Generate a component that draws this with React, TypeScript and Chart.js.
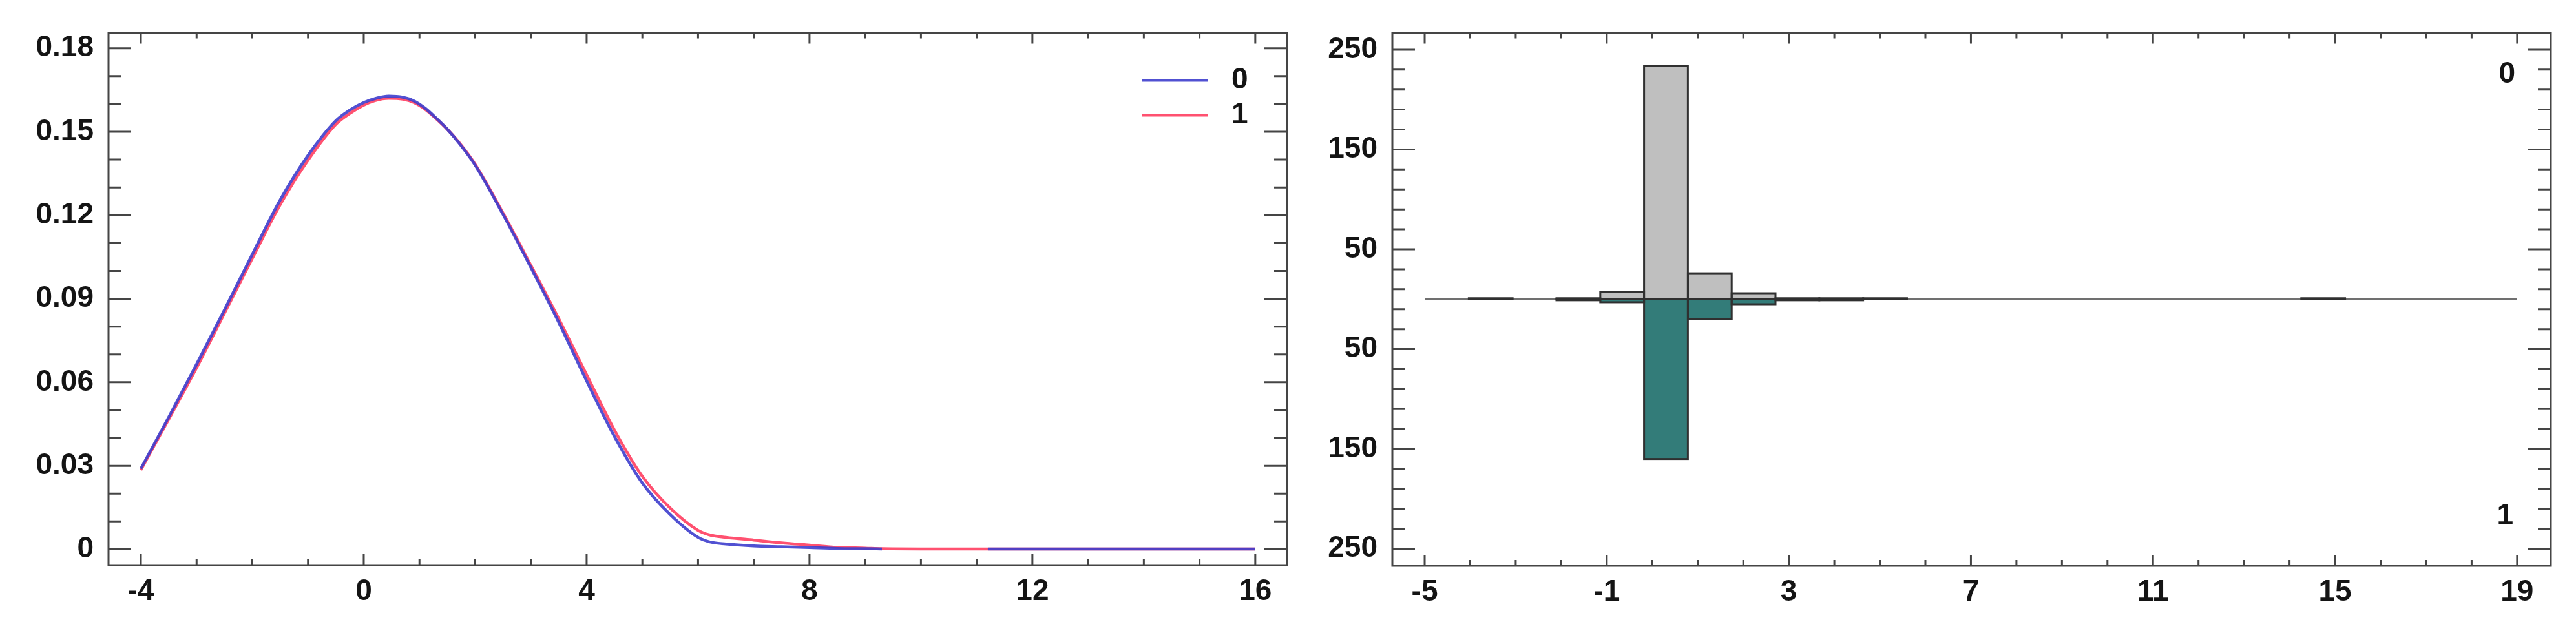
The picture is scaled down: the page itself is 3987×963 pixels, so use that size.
import React, { useEffect, useRef } from "react";
import { Chart, registerables } from "chart.js";

Chart.register(...registerables);

// ---------------- data: left panel (density curves) ----------------
const seriesNames = ["0", "1"];
const densityX = [
  -4, -3.5, -3, -2.5, -2, -1.5, -1, -0.5, -0.25, 0, 0.2, 0.45, 0.7, 0.9, 1.1, 1.3, 1.5, 1.7, 2, 2.5, 3,
  3.5, 4, 4.5, 5, 5.5, 6, 6.2, 6.5, 7, 7.5, 8, 8.5, 9, 9.3, 10.3, 11.2, 12, 13, 14, 15, 16,
];
const density0 = [
  0.029, 0.0475, 0.0665, 0.086, 0.106, 0.1255, 0.1415, 0.154, 0.1578, 0.1605, 0.1619, 0.1628, 0.1624,
  0.1611, 0.1585, 0.1549, 0.1509, 0.1462, 0.138, 0.1203, 0.1012, 0.0815, 0.0605, 0.0405, 0.0238, 0.0125,
  0.0043, 0.0027, 0.0019, 0.0012, 0.0009, 0.0006, 0.0003, 0.0002, 0.0001, null, 0.0001, 0.0001, 0.0001,
  0.0001, 0.0001, 0.0001,
];
const density1 = [
  0.0285, 0.0467, 0.0652, 0.0848, 0.1045, 0.1238, 0.1398, 0.1527, 0.1566, 0.1596, 0.1612, 0.162, 0.1617,
  0.1605, 0.1581, 0.1547, 0.1509, 0.1464, 0.1383, 0.1208, 0.102, 0.0828, 0.0627, 0.0428, 0.0262, 0.0148,
  0.0068, 0.0052, 0.0043, 0.0033, 0.0023, 0.0015, 0.0007, 0.0004, 0.0002, 0.0001, 0.0001, 0.0001, 0.0001,
  0.0001, 0.0001, 0.0001,
];
const densityXTicks = [-4, 0, 4, 8, 12, 16];
const densityXMinor = [-3, -2, -1, 1, 2, 3, 5, 6, 7, 9, 10, 11, 13, 14, 15];
const densityYTicks = [0, 0.03, 0.06, 0.09, 0.12, 0.15, 0.18];
const densityYMinor = [0.01, 0.02, 0.04, 0.05, 0.07, 0.08, 0.1, 0.11, 0.13, 0.14, 0.16, 0.17];
const densityXRange = [-4.58, 16.57];
const densityYRange = [-0.0057, 0.1856];

// ---------------- data: right panel (back-to-back histogram) ----------------
const binCenters = [
  -3.549, -2.586, -1.624, -0.661, 0.301, 1.264, 2.226, 3.189, 4.151, 5.114, 6.076, 7.039, 8.001, 8.964,
  9.926, 10.889, 11.851, 12.814, 13.776, 14.739,
];
const counts0 = [1, null, 1, 7, 234, 26, 6, 1, 1, 1, null, null, null, null, null, null, null, null, null, 1];
const counts1 = [null, null, 1, 3, 160, 20, 5, 1, 1, null, null, null, null, null, null, null, null, null, null, null];
const histXTicks = [-5, -1, 3, 7, 11, 15, 19];
const histXMinor = [-4, -3, -2, 0, 1, 2, 4, 5, 6, 8, 9, 10, 12, 13, 14, 16, 17, 18];
const histYTicks = [-250, -150, -50, 50, 150, 250];
const histYMinor = [
  -230, -210, -190, -170, -130, -110, -90, -70, -30, -10, 10, 30, 70, 90, 110, 130, 170, 190, 210, 230,
];
const histXRange = [-5.71, 19.74];
const histYRange = [-267, 267];
const zeroLineSpan = [-5, 19];

// ---------------- styles ----------------
const FONT_FAMILY = "'Liberation Sans', Arial, Helvetica, sans-serif";
const TEXT_COLOR = "#141414";
const FRAME_COLOR = "#454545";
const BLUE = "rgba(62,62,205,0.9)";
const RED = "rgba(255,62,96,0.9)";
const GREY_BAR = "#bfbfbf";
const TEAL_BAR = "#337c79";
const BAR_EDGE = "#303030";

const tickFont = { family: FONT_FAMILY, size: 46, weight: "bold" as const };

function makeFrame(xMajor: number[], xMinor: number[], yMajor: number[], yMinor: number[]) {
  return {
    id: "frame",
    afterDraw(chart: any) {
      const { ctx, chartArea: a } = chart;
      const xs = chart.scales.x;
      const ys = chart.scales.y;
      ctx.save();
      ctx.strokeStyle = FRAME_COLOR;
      ctx.lineWidth = 3;
      ctx.beginPath();
      const hx = (vals: number[], len: number) =>
        vals.forEach((v) => {
          const p = xs.getPixelForValue(v);
          ctx.moveTo(p, a.bottom);
          ctx.lineTo(p, a.bottom - len);
          ctx.moveTo(p, a.top);
          ctx.lineTo(p, a.top + len);
        });
      const vy = (vals: number[], len: number) =>
        vals.forEach((v) => {
          const p = ys.getPixelForValue(v);
          ctx.moveTo(a.left, p);
          ctx.lineTo(a.left + len, p);
          ctx.moveTo(a.right, p);
          ctx.lineTo(a.right - len, p);
        });
      hx(xMajor, 17);
      hx(xMinor, 9);
      vy(yMajor, 35);
      vy(yMinor, 20);
      ctx.stroke();
      ctx.strokeRect(a.left, a.top, a.right - a.left, a.bottom - a.top);
      ctx.restore();
    },
  };
}

// outlines each histogram bar with a centred stroke (as the original plotting tool does)
const barOutlinePlugin = {
  id: "barOutline",
  afterDatasetsDraw(chart: any) {
    const { ctx } = chart;
    ctx.save();
    ctx.strokeStyle = BAR_EDGE;
    ctx.lineWidth = 3;
    chart.data.datasets.forEach((ds: any, di: number) => {
      if (ds.type !== "bar") return;
      const meta = chart.getDatasetMeta(di);
      meta.data.forEach((el: any, i: number) => {
        const raw = ds.data[i];
        if (!raw || raw.y == null) return;
        const p = el.getProps(["x", "y", "base", "width"], true);
        const top = Math.min(p.y, p.base);
        const h = Math.abs(p.base - p.y);
        ctx.strokeRect(p.x - p.width / 2, top, p.width, h);
      });
    });
    ctx.restore();
  },
};

const legendPlugin = {
  id: "curveLegend",
  afterDraw(chart: any) {
    const { ctx, chartArea: a } = chart;
    const colors = [BLUE, RED];
    ctx.save();
    ctx.font = `bold 46px ${FONT_FAMILY}`;
    ctx.textBaseline = "middle";
    ctx.textAlign = "left";
    seriesNames.forEach((name, i) => {
      const y = a.top + 74 + i * 54;
      ctx.strokeStyle = colors[i];
      ctx.lineWidth = 4;
      ctx.beginPath();
      ctx.moveTo(a.right - 224, y);
      ctx.lineTo(a.right - 122, y);
      ctx.stroke();
      ctx.fillStyle = TEXT_COLOR;
      ctx.fillText(name, a.right - 86, y);
    });
    ctx.restore();
  },
};

const groupLabelPlugin = {
  id: "groupLabels",
  afterDraw(chart: any) {
    const { ctx, chartArea: a } = chart;
    ctx.save();
    ctx.font = `bold 46px ${FONT_FAMILY}`;
    ctx.textBaseline = "middle";
    ctx.textAlign = "right";
    ctx.fillStyle = TEXT_COLOR;
    ctx.fillText(seriesNames[0], a.right - 55, a.top + 65);
    ctx.fillText(seriesNames[1], a.right - 58, a.bottom - 77);
    ctx.restore();
  },
};

function setTicks(values: number[]) {
  return (scale: any) => {
    scale.ticks = values.map((v) => ({ value: v }));
  };
}

const noGrid = { display: false, drawTicks: false, tickLength: 0 };

function leftConfig(): any {
  const lineCommon = {
    borderWidth: 4.5,
    pointRadius: 0,
    cubicInterpolationMode: "monotone",
    spanGaps: false,
    fill: false,
  };
  return {
    type: "line",
    data: {
      datasets: [
        {
          ...lineCommon,
          label: seriesNames[0],
          data: densityX.map((x, i) => ({ x, y: density0[i] })),
          borderColor: BLUE,
        },
        {
          ...lineCommon,
          label: seriesNames[1],
          data: densityX.map((x, i) => ({ x, y: density1[i] })),
          borderColor: RED,
        },
      ],
    },
    options: {
      animation: false,
      responsive: false,
      devicePixelRatio: 1,
      layout: { padding: { top: 44, right: 48, left: 0, bottom: 0 } },
      plugins: { legend: { display: false }, tooltip: { enabled: false } },
      scales: {
        x: {
          type: "linear",
          min: densityXRange[0],
          max: densityXRange[1],
          afterBuildTicks: setTicks(densityXTicks),
          afterFit: (s: any) => {
            s.height = 88;
          },
          grid: noGrid,
          border: { display: false },
          ticks: { font: tickFont, color: TEXT_COLOR, padding: 14, maxRotation: 0, autoSkip: false },
        },
        y: {
          type: "linear",
          min: densityYRange[0],
          max: densityYRange[1],
          afterBuildTicks: setTicks(densityYTicks),
          afterFit: (s: any) => {
            s.width = 168;
          },
          grid: noGrid,
          border: { display: false },
          ticks: {
            font: tickFont,
            color: TEXT_COLOR,
            padding: 23,
            autoSkip: false,
            callback: (v: number) => String(v),
          },
        },
      },
    },
    plugins: [makeFrame(densityXTicks, densityXMinor, densityYTicks, densityYMinor), legendPlugin],
  };
}

function rightConfig(): any {
  const barCommon = {
    type: "bar",
    grouped: false,
    barPercentage: 1,
    categoryPercentage: 1,
    borderWidth: 0,
    inflateAmount: 0,
    order: 1,
  };
  return {
    type: "bar",
    data: {
      datasets: [
        {
          ...barCommon,
          label: seriesNames[0],
          data: binCenters.map((x, i) => ({ x, y: counts0[i] })),
          backgroundColor: GREY_BAR,
        },
        {
          ...barCommon,
          label: seriesNames[1],
          data: binCenters.map((x, i) => ({ x, y: counts1[i] == null ? null : -(counts1[i] as number) })),
          backgroundColor: TEAL_BAR,
        },
        {
          type: "line",
          label: "zero",
          data: zeroLineSpan.map((x) => ({ x, y: 0 })),
          borderColor: "#707070",
          borderWidth: 2.5,
          pointRadius: 0,
          order: 5,
        },
      ],
    },
    options: {
      animation: false,
      responsive: false,
      devicePixelRatio: 1,
      layout: { padding: { top: 49, right: 39, left: 0, bottom: 0 } },
      plugins: { legend: { display: false }, tooltip: { enabled: false } },
      scales: {
        x: {
          type: "linear",
          min: histXRange[0],
          max: histXRange[1],
          offset: false,
          afterBuildTicks: setTicks(histXTicks),
          afterFit: (s: any) => {
            s.height = 87;
          },
          grid: noGrid,
          border: { display: false },
          ticks: { font: tickFont, color: TEXT_COLOR, padding: 14, maxRotation: 0, autoSkip: false },
        },
        y: {
          type: "linear",
          min: histYRange[0],
          max: histYRange[1],
          afterBuildTicks: setTicks(histYTicks),
          afterFit: (s: any) => {
            s.width = 115;
          },
          grid: noGrid,
          border: { display: false },
          ticks: {
            font: tickFont,
            color: TEXT_COLOR,
            padding: 23,
            autoSkip: false,
            callback: (v: number) => String(Math.abs(v)),
          },
        },
      },
    },
    plugins: [barOutlinePlugin, makeFrame(histXTicks, histXMinor, histYTicks, histYMinor), groupLabelPlugin],
  };
}

export default function App() {
  const leftRef = useRef<HTMLCanvasElement>(null);
  const rightRef = useRef<HTMLCanvasElement>(null);

  useEffect(() => {
    const c1 = new Chart(leftRef.current as HTMLCanvasElement, leftConfig());
    const c2 = new Chart(rightRef.current as HTMLCanvasElement, rightConfig());
    return () => {
      c1.destroy();
      c2.destroy();
    };
  }, []);

  return (
    <div
      style={{
        position: "absolute",
        left: 0,
        top: 0,
        width: 3987,
        height: 963,
        background: "#ffffff",
        overflow: "hidden",
      }}
    >
      <canvas
        ref={leftRef}
        width={2040}
        height={963}
        style={{ position: "absolute", left: 0, top: 0, width: 2040, height: 963 }}
      />
      <canvas
        ref={rightRef}
        width={1947}
        height={963}
        style={{ position: "absolute", left: 2040, top: 0, width: 1947, height: 963 }}
      />
    </div>
  );
}
